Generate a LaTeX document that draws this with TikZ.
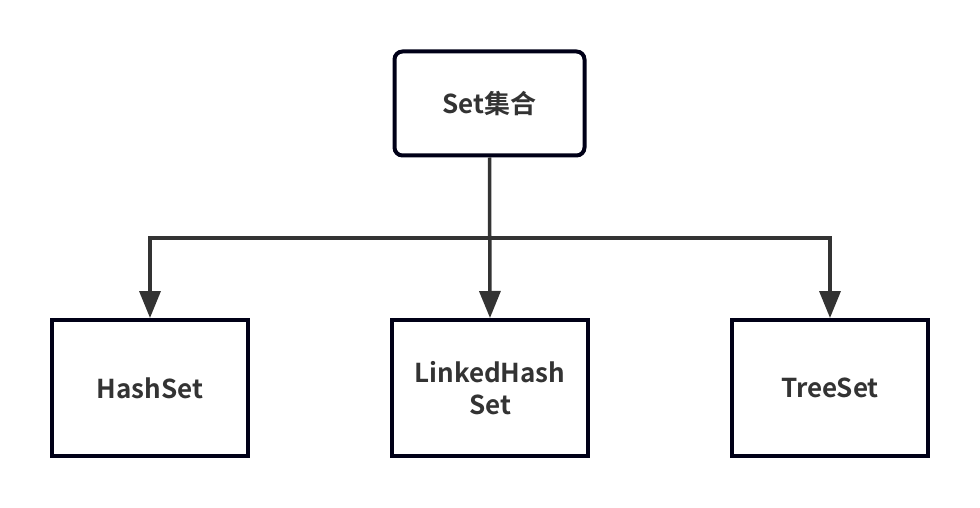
\documentclass[tikz,border=0pt]{standalone}
\usepackage{fontspec}
\setmainfont{Noto Sans CJK SC}[BoldFont={Noto Sans CJK SC Bold}]
\usetikzlibrary{arrows.meta}
\begin{document}
\begin{tikzpicture}[x=1pt,y=-1pt,
  box/.style={draw=black!85!blue!60!black,line width=4pt,fill=white,minimum width=196pt,minimum height=136pt,inner sep=0pt,align=center,font=\bfseries\fontsize{26}{32}\selectfont,text=black!80},
  conn/.style={draw=black!80,line width=3.5pt,-{Triangle[length=27pt,width=21pt]}}]
\useasboundingbox (0,0) rectangle (980,508);
\node[box,rounded corners=8pt,minimum width=190pt,minimum height=104pt] (set) at (489.5,103.5) {Set集合};
\node[box] (hash) at (150,388) {HashSet};
\node[box] (linked) at (490,388) {LinkedHash\\Set};
\node[box] (tree) at (830,388) {TreeSet};
\coordinate (j) at (489.5,238);
\draw[conn] (set.south) -- (linked.north);
\draw[conn] (j) -| (hash.north);
\draw[conn] (j) -| (tree.north);
\end{tikzpicture}
\end{document}
